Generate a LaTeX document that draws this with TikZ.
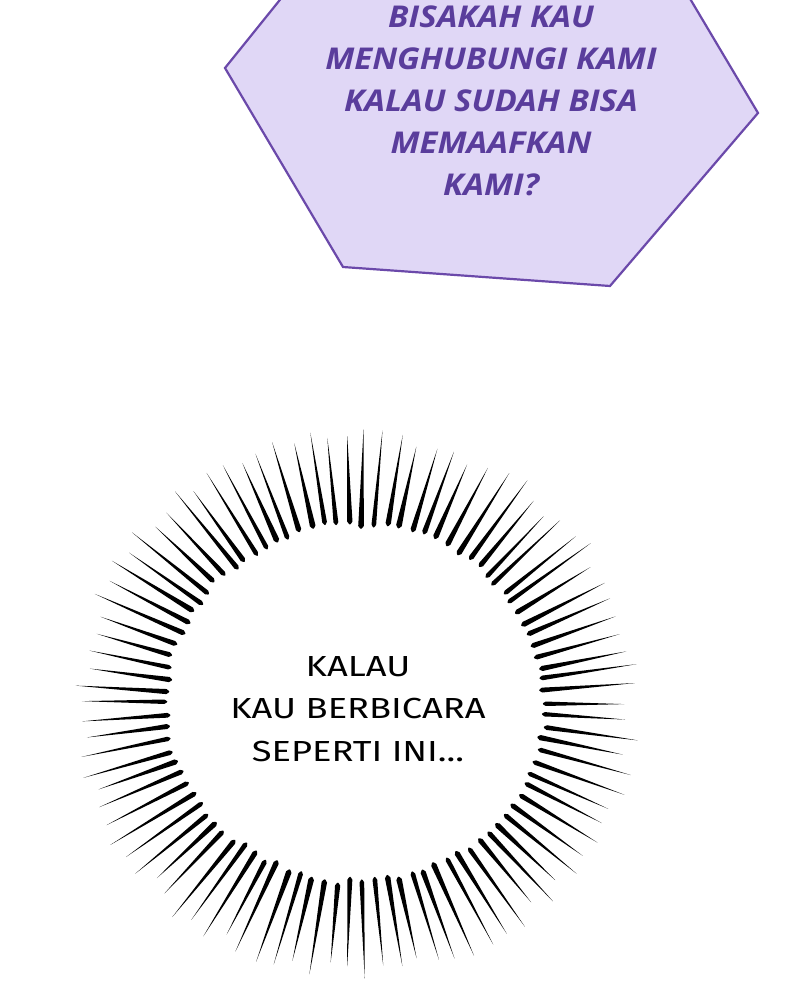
\documentclass[tikz,border=0pt]{standalone}
\usepackage{fontspec}
\setmainfont{Open Sans}
\newfontfamily\purplefont[FakeStretch=1.1]{Open Sans}
\newfontfamily\blackfont[FakeStretch=1.25]{Fira Sans}
\definecolor{hexfill}{HTML}{E0D7F6}
\definecolor{hexline}{HTML}{6B49AA}
\definecolor{hextext}{HTML}{5A3D9C}
\tikzset{
  hexbubble/.style={fill=hexfill, draw=hexline, line width=2.2pt, line join=miter},
  purpletext/.style={text=hextext, align=center, font=\purplefont\bfseries\itshape\fontsize{30}{42}\selectfont},
  blacktext/.style={text=black, align=center, font=\blackfont\fontsize{29}{42.5}\selectfont},
  ray/.style={fill=black}
}
\begin{document}
\begin{tikzpicture}[x=1pt,y=-1pt]
\fill[white] (0,0) rectangle (800,1000);
\clip (0,0) rectangle (800,1000);
% hexagon bubble
\path[hexbubble] (225,68) -- (343,267) -- (610,286) -- (758,113) -- (667,-40) -- (312,-40) -- cycle;
\node[purpletext] (q) at (491,101) {BISAKAH KAU\\MENGHUBUNGI KAMI\\KALAU SUDAH BISA\\MEMAAFKAN\\KAMI?};
% burst
\pgfmathsetseed{5}
\foreach \i in {0,...,93}{
  \pgfmathsetmacro\ang{\i*3.82979 + 0.5*rand}
  \pgfmathsetmacro\rin{1 + 0.02*rand}
  \pgfmathsetmacro\rout{1 + 0.035*rand}
  \pgfmathsetmacro\wid{0.78 + 0.08*rand}
  \pgfmathsetmacro\xa{356+190*\rin*cos(\ang+\wid)}
  \pgfmathsetmacro\ya{703+180*\rin*sin(\ang+\wid)}
  \pgfmathsetmacro\xb{356+186*\rin*cos(\ang)}
  \pgfmathsetmacro\yb{703+176*\rin*sin(\ang)}
  \pgfmathsetmacro\xc{356+190*\rin*cos(\ang-\wid)}
  \pgfmathsetmacro\yc{703+180*\rin*sin(\ang-\wid)}
  \pgfmathsetmacro\xd{356+277*\rout*cos(\ang)}
  \pgfmathsetmacro\yd{703+270*\rout*sin(\ang)}
  \fill[ray] (\xa,\ya) .. controls (\xb,\yb) .. (\xc,\yc) -- (\xd,\yd) -- cycle;
}
\node[blacktext] (s) at (358,709) {KALAU\\KAU BERBICARA\\SEPERTI INI...};
\end{tikzpicture}
\end{document}
